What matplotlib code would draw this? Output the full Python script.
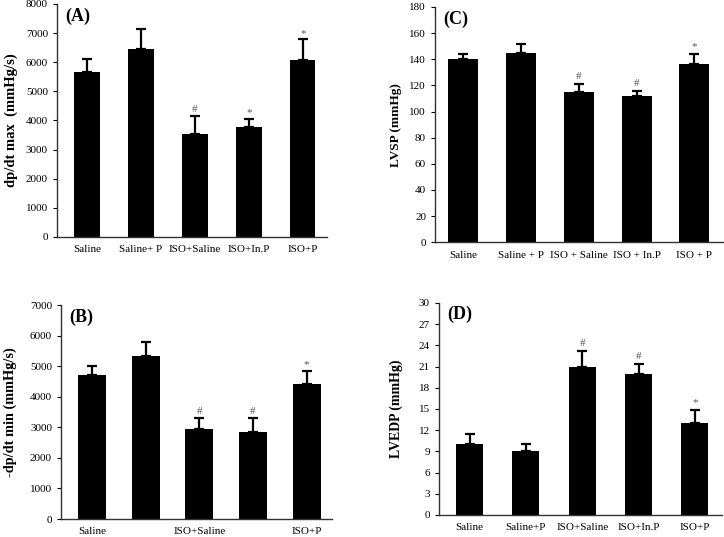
import matplotlib
matplotlib.use('Agg')
import matplotlib.pyplot as plt

plt.rcParams['font.family'] = ['Liberation Serif', 'DejaVu Serif']

# ── Data ──────────────────────────────────────────────────────────────────────
groups_a = ['Saline', 'Saline+ P', 'ISO+Saline', 'ISO+In.P', 'ISO+P']
groups_b = ['Saline', '', 'ISO+Saline', '', 'ISO+P']
groups_c = ['Saline', 'Saline + P', 'ISO + Saline', 'ISO + In.P', 'ISO + P']
groups_d = ['Saline', 'Saline+P', 'ISO+Saline', 'ISO+In.P', 'ISO+P']

dpdt_max     = [5680, 6450, 3530, 3760, 6060]
dpdt_max_err = [420, 700, 620, 300, 720]
dpdt_min     = [4700, 5320, 2930, 2840, 4430]
dpdt_min_err = [300, 460, 370, 460, 420]
lvsp         = [140, 145, 115, 112, 136]
lvsp_err     = [4, 7, 6, 4, 8]
lvedp        = [10, 9, 21, 20, 13]
lvedp_err    = [1.5, 1.0, 2.2, 1.4, 1.9]

marks_a = ['', '', '#', '*', '*']
marks_b = ['', '', '#', '#', '*']
marks_c = ['', '', '#', '#', '*']
marks_d = ['', '', '#', '#', '*']

# ── Figure ────────────────────────────────────────────────────────────────────
fig = plt.figure(figsize=(7.24, 5.37), dpi=100)
fig.patch.set_facecolor('white')

def panel(rect, labels, vals, errs, marks, ymax, ystep, ylabel, tag, width, xlim, pad,
          ylab_size, ylab_x):
    ax = fig.add_axes(rect)
    x = list(range(len(vals)))
    ax.bar(x, vals, width=width, color='black', zorder=2)
    ax.errorbar(x, vals, yerr=[[0]*len(errs), errs], fmt='none', ecolor='black',
                elinewidth=1.6, capsize=3.5, capthick=1.6, zorder=3)
    for xi, v, e, m in zip(x, vals, errs, marks):
        if m:
            ax.text(xi, v + e + pad, m, ha='center', va='bottom', fontsize=8, color='#555')
    ax.set_xlim(*xlim)
    ax.set_ylim(0, ymax)
    ax.set_yticks(range(0, ymax + 1, ystep))
    ax.set_xticks(x)
    ax.set_xticklabels(labels, fontsize=8)
    ax.tick_params(axis='x', length=0, pad=6)
    ax.tick_params(axis='y', labelsize=8, length=3, direction='out')
    for s in ['top', 'right']:
        ax.spines[s].set_visible(False)
    for s in ['left', 'bottom']:
        ax.spines[s].set_color('#333')
        ax.spines[s].set_linewidth(1.0)
    ax.set_ylabel(ylabel, fontsize=ylab_size, fontweight='bold')
    # label anchor is its right edge after rotation
    ax.yaxis.set_label_coords(ylab_x, 0.5)
    ax.text(0.03, 0.985, tag, transform=ax.transAxes, fontsize=13, fontweight='bold',
            ha='left', va='top')
    return ax

panel([0.0787, 0.5587, 0.373, 0.434], groups_a, dpdt_max, dpdt_max_err, marks_a,
      8000, 1000, 'dp/dt max  (mmHg/s)', '(A)', 0.47, (-0.56, 4.45), 60, 10.5, -0.144)
panel([0.601, 0.549, 0.397, 0.438], groups_c, lvsp, lvsp_err, marks_c,
      180, 20, 'LVSP (mmHg)', '(C)', 0.52, (-0.49, 4.49), 2, 9.5, -0.115)
panel([0.0843, 0.0335, 0.374, 0.3985], groups_b, dpdt_min, dpdt_min_err, marks_b,
      7000, 1000, '-dp/dt min (mmHg/s)', '(B)', 0.52, (-0.58, 4.47), 60, 10.3, -0.162)
panel([0.606, 0.041, 0.391, 0.395], groups_d, lvedp, lvedp_err, marks_d,
      30, 3, 'LVEDP (mmHg)', '(D)', 0.48, (-0.55, 4.48), 0.4, 10, -0.127)

fig.savefig('out.png', dpi=100, facecolor='white')
